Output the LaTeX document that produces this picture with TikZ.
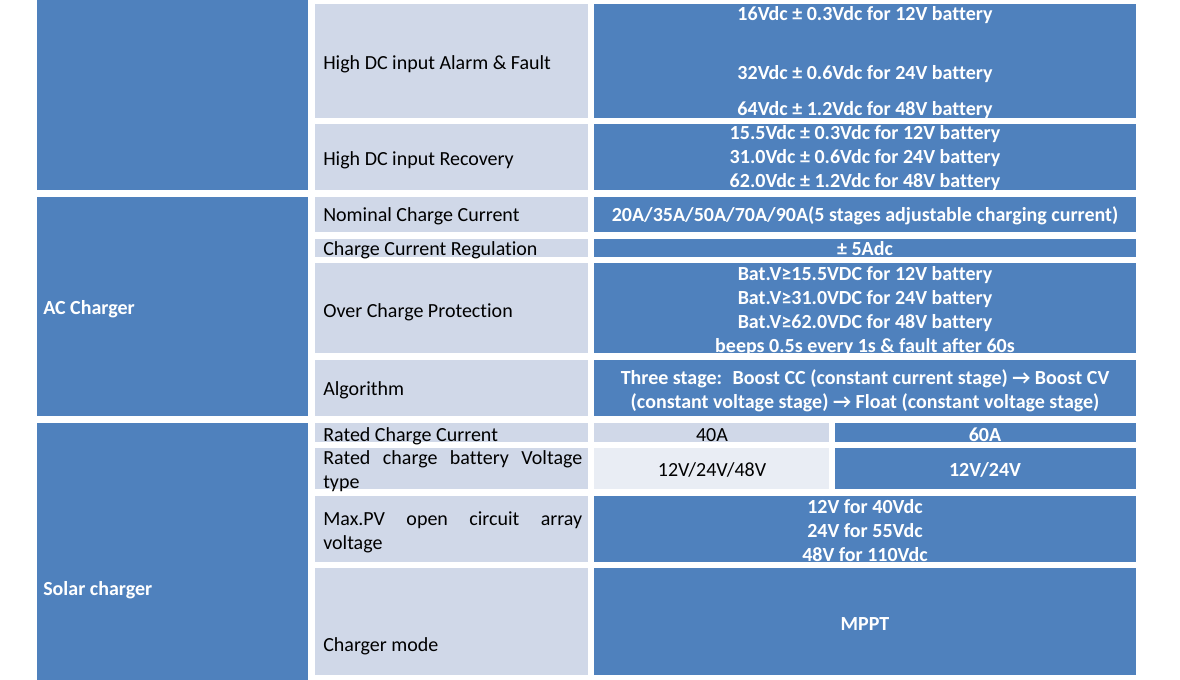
\documentclass[tikz,border=0pt]{standalone}
\usepackage{fontspec}
\setmainfont{Carlito}[Ligatures=NoCommon]
\definecolor{cellblue}{HTML}{4F81BD}
\definecolor{celllight}{HTML}{D0D8E8}
\definecolor{cellpale}{HTML}{E9EDF4}
\tikzset{
    bluecell/.style={fill=cellblue},
    lightcell/.style={fill=celllight},
    palecell/.style={fill=cellpale},
    item/.style={anchor=base west,inner sep=0pt,yshift=-0.75pt,font=\fontsize{15}{18}\selectfont},
    group/.style={item,text=white,font=\fontsize{15}{18}\selectfont\bfseries},
    value/.style={anchor=base,inner sep=0pt,yshift=-0.75pt,text=white,font=\fontsize{15}{18}\selectfont\bfseries},
    plain/.style={value,text=black,font=\fontsize{15}{18}\selectfont},
  }

\begin{document}
\begin{tikzpicture}[x=0.75pt,y=-0.75pt]
				  \useasboundingbox (0,0) rectangle (1180,680);
				  %COLONNE 1
				  \fill[bluecell] (37,0) rectangle (308,190);
				  \fill[bluecell] (37,197) rectangle (308,416);
				  \fill[bluecell] (37,423) rectangle (308,680);
				  \node[group] (ac) at (43,314) {AC Charger};
				  \node[group] (solar) at (43,594) {Solar charger};
				  %COLONNE 2
				  \foreach \ya/\yb in {4/118,124/190,197/232,239/257,263/353,360/416,423/442,448/489,496/562,568/675}
				    \fill[lightcell] (315,\ya) rectangle (588,\yb);
				  %COLONNE 3
				  \foreach \ya/\yb in {4/118,124/190,197/232,239/257,263/353,360/416,496/562,568/675}
				    \fill[bluecell] (594,\ya) rectangle (1136,\yb);
				  \fill[lightcell] (594,423) rectangle (829,442);
				  \fill[bluecell] (835,423) rectangle (1136,442);
				  \fill[palecell] (594,448) rectangle (829,489);
				  \fill[bluecell] (835,448) rectangle (1136,489);
				  %DC INPUT
				  \node[item] (alarm) at (323,69) {High DC input Alarm \& Fault};
				  \node[item] (recov) at (323,165) {High DC input Recovery};
				  \node[value] (hi-1) at (865,20) {16Vdc ± 0.3Vdc for 12V battery};
				  \node[value] (hi-2) at (865,79) {32Vdc ± 0.6Vdc for 24V battery};
				  \node[value] (hi-3) at (865,115) {64Vdc ± 1.2Vdc for 48V battery};
				  \foreach \txt [count=\i] in {15.5Vdc ± 0.3Vdc for 12V battery, 31.0Vdc ± 0.6Vdc for 24V battery, 62.0Vdc ± 1.2Vdc for 48V battery}
				    \node[value] (rec-\i) at (865,115+24*\i) {\txt};
				  %AC CHARGER
				  \node[item] (nominal) at (323,221) {Nominal Charge Current};
				  \node[item] (regul) at (323,255) {Charge Current Regulation};
				  \node[item] (over) at (323,317) {Over Charge Protection};
				  \node[item] (algo) at (323,395) {Algorithm};
				  \node[value] (cur) at (865,221) {20A/35A/50A/70A/90A(5 stages adjustable charging current)};
				  \node[value] (reg) at (865,255) {± 5Adc};
				  \foreach \txt [count=\i] in {Bat.V≥15.5VDC for 12V battery, Bat.V≥31.0VDC for 24V battery, Bat.V≥62.0VDC for 48V battery, beeps 0.5s every 1s \& fault after 60s}
				    \node[value] (prot-\i) at (865,256+24*\i) {\txt};
				  \node[value] (stage-1) at (865,383) {Three stage:~ Boost CC (constant current stage) → Boost CV};
				  \node[value] (stage-2) at (865,407) {(constant voltage stage) → Float (constant voltage stage)};
				  %SOLAR CHARGER
				  \node[item] (rated) at (323,440) {Rated Charge Current};
				  \node[item] (ratedv) at (323,463) {\makebox[194.25pt][s]{Rated charge battery Voltage}};
				  \node[item] (ratedv-2) at (323,487) {type};
				  \node[item] (maxpv) at (323,524) {\makebox[194.25pt][s]{Max.PV open circuit array}};
				  \node[item] (maxpv-2) at (323,548) {voltage};
				  \node[item] (mode) at (323,650) {Charger mode};
				  \node[plain] (a40) at (712,440) {40A};
				  \node[value] (a60) at (985,440) {60A};
				  \node[plain] (v40) at (712,475) {12V/24V/48V};
				  \node[value] (v60) at (985,475) {12V/24V};
				  \foreach \txt [count=\i] in {12V for 40Vdc, 24V for 55Vdc, 48V for 110Vdc}
				    \node[value] (pv-\i) at (865,488+24*\i) {\txt};
				  \node[value] (mppt) at (865,629) {MPPT};
				  \end{tikzpicture}
\end{document}
